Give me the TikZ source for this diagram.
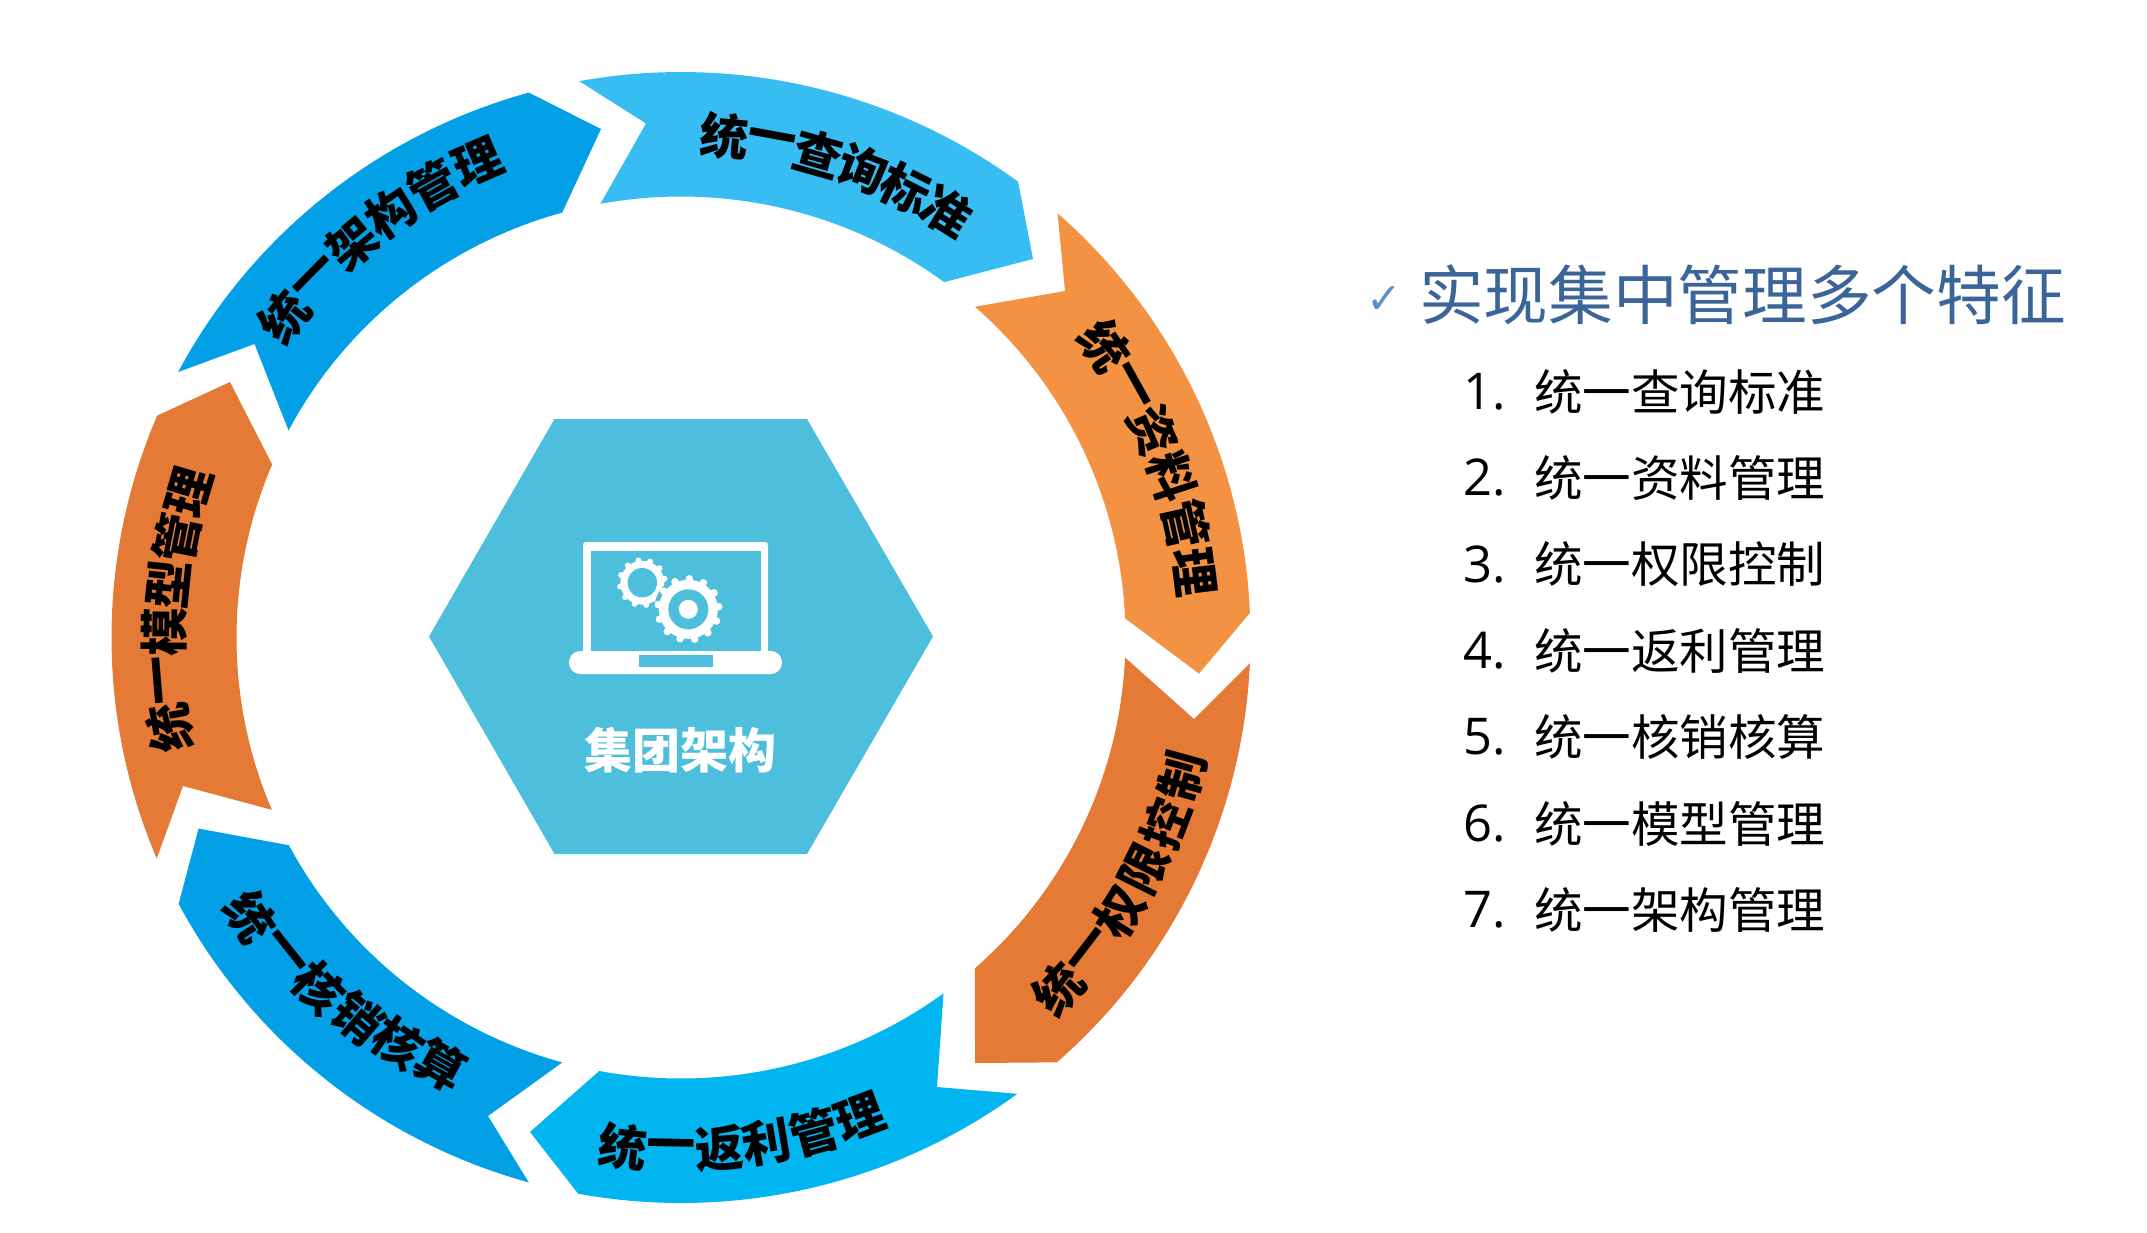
\documentclass[tikz,border=0pt]{standalone}
\usepackage{fontspec}
\newfontfamily\cjk{Noto Sans CJK SC}
\newfontfamily\latinf{Open Sans}
\newfontfamily\dejavu{DejaVu Sans}
\definecolor{cSkyA}{HTML}{38BDF2}
\definecolor{cOrgA}{HTML}{F39242}
\definecolor{cOrgB}{HTML}{E47A36}
\definecolor{cSkyB}{HTML}{00B5F0}
\definecolor{cBlue}{HTML}{03A0E8}
\definecolor{cHex}{HTML}{4DBEDB}
\definecolor{cTitle}{HTML}{3B6599}
\definecolor{cTick}{HTML}{5B8FCB}
\newcommand\Ou[1]{({681+569.5*cos(#1)},{-637.5+565.5*sin(#1)})}
\newcommand\In[1]{({681+444.5*cos(#1)},{-637.5+441*sin(#1)})}
\newcommand\OuArc[2]{arc[start angle=#1,end angle=#2,x radius=569.5,y radius=565.5]}
\newcommand\InArc[2]{arc[start angle=#1,end angle=#2,x radius=444.5,y radius=441]}
% name, start angle, end angle, r start, r end, rotation offset, chars
\newcommand\ArcText[7]{%
  \foreach \ch [count=\i from 0] in {#7}{%
    \pgfmathsetmacro\aa{#2+(#3-#2)*\i/5}%
    \pgfmathsetmacro\rr{#4+(#5-#4)*\i/5}%
    \node[arcchar,rotate=\aa+#6] (#1-\i) at ({681+\rr*cos(\aa)},{-637.5+\rr*sin(\aa)}) {\ch};
  }%
}
\tikzset{
  x=0.75pt,y=0.75pt,
  arcchar/.style={inner sep=0pt,outer sep=0pt,font=\cjk\bfseries\fontsize{36.5}{36.5}\selectfont,text=black},
  listnum/.style={anchor=west,inner sep=0pt,font=\latinf\fontsize{38}{38}\selectfont,text=black},
  listtxt/.style={anchor=west,inner sep=0pt,font=\cjk\fontsize{36.4}{36.4}\selectfont,text=black},
}
\begin{document}
\begin{tikzpicture}
\useasboundingbox (0,0) rectangle (2147,-1232);
\fill[white] (0,0) rectangle (2147,-1232);
% segment 1
\fill[cSkyA] \Ou{100.3} \OuArc{100.3}{53.7} -- (1033,-259) -- \In{53.7} \InArc{53.7}{100.45} -- (646,-123.5) -- cycle;
% segment 2
\fill[cOrgA] \Ou{48.6} \OuArc{48.6}{2.5} -- (1199,-673.6) -- \In{2.5} \InArc{2.5}{48.6} -- (1065,-291) -- cycle;
% segment 3
\fill[cOrgB] \Ou{-2.6} \OuArc{-2.6}{-48.7} -- (975,-1063) -- \In{-48.6} \InArc{-48.6}{-2.6} -- (1194,-719) -- cycle;
% segment 4
\fill[cSkyB] \Ou{-53.8} \OuArc{-53.8}{-100.4} -- (530,-1132) -- \In{-100.6} \InArc{-100.6}{-53.8} -- (937,-1087) -- cycle;
% segment 5
\fill[cBlue] \Ou{-105.5} \OuArc{-105.5}{-151.9} -- (198.6,-828.6) -- \In{-151.9} \InArc{-151.9}{-105.5} -- (488,-1116) -- cycle;
% segment 6
\fill[cOrgB] \Ou{203} \OuArc{203}{156.9} -- (230,-382) -- \In{156.9} \InArc{156.9}{203} -- (183,-786) -- cycle;
% segment 7
\fill[cBlue] \Ou{152} \OuArc{152}{105.5} -- (601,-129) -- \In{105.5} \InArc{105.5}{152} -- (254.5,-344) -- cycle;
% segment labels
\ArcText{ta}{85}{58}{503}{502}{-90}{统,一,查,询,标,准}
\ArcText{tb}{34.6}{7.2}{514}{518}{-90}{统,一,资,料,管,理}
\ArcText{tc}{-43}{-15.5}{516}{520}{90}{统,一,权,限,控,制}
\ArcText{td}{-96.5}{-69.6}{513}{512}{90}{统,一,返,利,管,理}
\ArcText{te}{-147}{-119.3}{513}{490}{90}{统,一,核,销,核,算}
\ArcText{tf}{190}{163.5}{519}{513}{-90}{统,一,模,型,管,理}
\ArcText{tg}{141}{113.2}{510}{517}{-90}{统,一,架,构,管,理}
% hexagon
\fill[cHex] (554.5,-419) -- (807,-419) -- (933,-636.5) -- (807,-854) -- (554.5,-854) -- (429,-636.5) -- cycle;
% laptop
\fill[white,rounded corners=2pt] (583,-542) rectangle (768,-656);
\fill[cHex] (591,-551) rectangle (761,-651);
\fill[white,rounded corners=8.4pt] (569,-651) rectangle (782,-674);
\fill[cHex] (639,-655) rectangle (713,-667);
% small gear
\fill[white] (642.3,-582.7) circle (22);
\foreach \t in {0,30,...,330} \fill[white] (642.3,-582.7) ++(\t+10:22.5) circle (3);
\fill[cHex] (642.3,-582.7) circle (14.7);
% large gear
\fill[cHex] (688.3,-609.3) circle (34);
\fill[white] (688.3,-609.3) circle (29.5);
\foreach \t in {0,27.7,...,340} \fill[white] (688.3,-609.3) ++(\t+5:30.5) circle (3.8);
\fill[cHex] (688.3,-609.3) circle (20);
\fill[white] (688.3,-609.3) circle (9.5);
\node[inner sep=0pt,text=white,font=\cjk\bfseries\fontsize{36}{36}\selectfont] (hexlabel) at (680,-750) {集团架构};
% right side
\node[inner sep=0pt,text=cTick,font=\dejavu\fontsize{32}{32}\selectfont] (tick) at (1384,-300) {✓};
\node[inner sep=0pt,anchor=center,text=cTitle,font=\cjk\fontsize{48.5}{48.5}\selectfont] (title) at (1742.5,-295) {实现集中管理多个特征};
\foreach \n/\s [count=\k from 0] in {1./统一查询标准,2./统一资料管理,3./统一权限控制,4./统一返利管理,5./统一核销核算,6./统一模型管理,7./统一架构管理}{
  \node[listnum] (num\k) at (1463,{-391.5-86.4*\k}) {\n};
  \node[listtxt] (item\k) at (1534,{-391.5-86.4*\k}) {\s};
}
\end{tikzpicture}
\end{document}
